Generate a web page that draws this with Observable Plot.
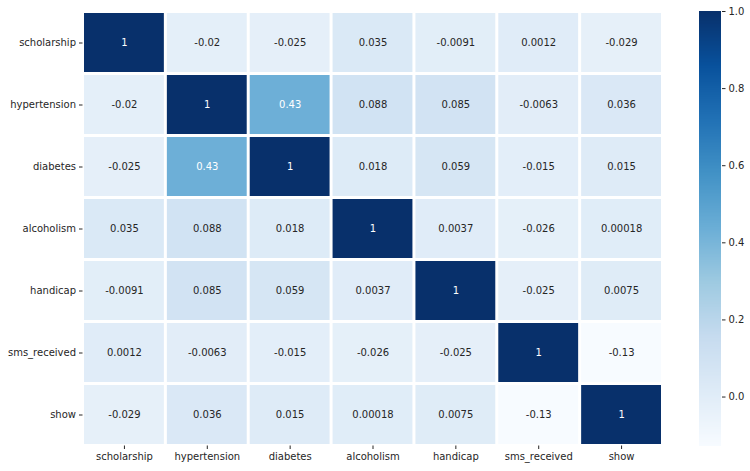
<!DOCTYPE html>
<html><head><meta charset="utf-8">
<script src="https://cdn.jsdelivr.net/npm/d3@7"></script>
<script src="https://cdn.jsdelivr.net/npm/@observablehq/plot@0.6"></script>
<style>
body{margin:0;background:#fff}
#c{position:relative;width:750px;height:471px}
#c svg{position:absolute;top:0}
</style>
</head><body><div id="c"></div>
<script>
const variables = ["scholarship","hypertension","diabetes","alcoholism","handicap","sms_received","show"];
const scholarship  = [1, -0.02, -0.025, 0.035, -0.0091, 0.0012, -0.029];
const hypertension = [-0.02, 1, 0.43, 0.088, 0.085, -0.0063, 0.036];
const diabetes     = [-0.025, 0.43, 1, 0.018, 0.059, -0.015, 0.015];
const alcoholism   = [0.035, 0.088, 0.018, 1, 0.0037, -0.026, 0.00018];
const handicap     = [-0.0091, 0.085, 0.059, 0.0037, 1, -0.025, 0.0075];
const sms_received = [0.0012, -0.0063, -0.015, -0.026, -0.025, 1, -0.127];
const show         = [-0.029, 0.036, 0.015, 0.00018, 0.0075, -0.127, 1];
const rowsData = [scholarship, hypertension, diabetes, alcoholism, handicap, sms_received, show];
const colorTicks = [0, 0.2, 0.4, 0.6, 0.8, 1.0];
const vmin = -0.127, vmax = 1;

const blues = ["#f7fbff","#deebf7","#c6dbef","#9ecae1","#6baed6","#4292c6","#2171b5","#08519c","#08306b"];
const stops = blues.map((_, i) => vmin + (vmax - vmin) * i / (blues.length - 1));
const colorOpts = {type: "linear", domain: stops, range: blues, interpolate: "rgb", clamp: true};
const cscale = d3.scaleLinear().domain(stops).range(blues).interpolate(d3.interpolateRgb).clamp(true);

function lum(c) {
  const col = d3.rgb(c);
  const f = v => { v /= 255; return v <= 0.03928 ? v / 12.92 : Math.pow((v + 0.055) / 1.055, 2.4); };
  return 0.2126 * f(col.r) + 0.7152 * f(col.g) + 0.0722 * f(col.b);
}

const cells = [];
rowsData.forEach((row, i) => row.forEach((v, j) => cells.push({row: variables[i], col: variables[j], value: v})));
const fmt = v => d3.format(".2~g")(v).replace("\u2212", "-");

const heat = Plot.plot({
  width: 750, height: 471,
  marginLeft: 82.5, marginRight: 87.5, marginTop: 11.5, marginBottom: 25.5,
  style: {fontFamily: "DejaVu Sans", fontSize: "10px", color: "#262626", background: "transparent"},
  x: {type: "band", domain: variables, padding: 0, round: false, label: null},
  y: {type: "band", domain: variables, padding: 0, round: false, label: null},
  color: colorOpts,
  marks: [
    Plot.cell(cells, {x: "col", y: "row", fill: "value", inset: 1.5}),
    Plot.text(cells, {x: "col", y: "row", text: d => fmt(d.value),
      fill: d => lum(cscale(d.value)) > 0.408 ? "#262626" : "#ffffff", fontSize: 10}),
    Plot.axisX({anchor: "bottom", tickSize: 3.5, tickPadding: 3.5, label: null, fontSize: 10}),
    Plot.axisY({anchor: "left", tickSize: 3.5, tickPadding: 3.5, label: null, fontSize: 10})
  ]
});
heat.style.left = "0px";

const step = 0.002;
const grad = d3.range(vmin, vmax, step);
const bar = Plot.plot({
  width: 60, height: 471,
  marginLeft: 9, marginRight: 29, marginTop: 11, marginBottom: 25.5,
  style: {fontFamily: "DejaVu Sans", fontSize: "10px", color: "#262626", background: "transparent"},
  x: {domain: [0, 1], axis: null},
  y: {domain: [vmin, vmax], label: null},
  color: colorOpts,
  marks: [
    Plot.rect(grad, {x1: 0, x2: 1, y1: d => d, y2: d => Math.min(vmax, d + step), fill: d => d + step / 2, shapeRendering: "crispEdges"}),
    Plot.axisY({anchor: "right", ticks: colorTicks, tickFormat: d3.format(".1f"), tickSize: 3.5, tickPadding: 3.5, label: null, fontSize: 10})
  ]
});
bar.style.left = "690px";

document.getElementById("c").append(heat, bar);
</script>
</body></html>
